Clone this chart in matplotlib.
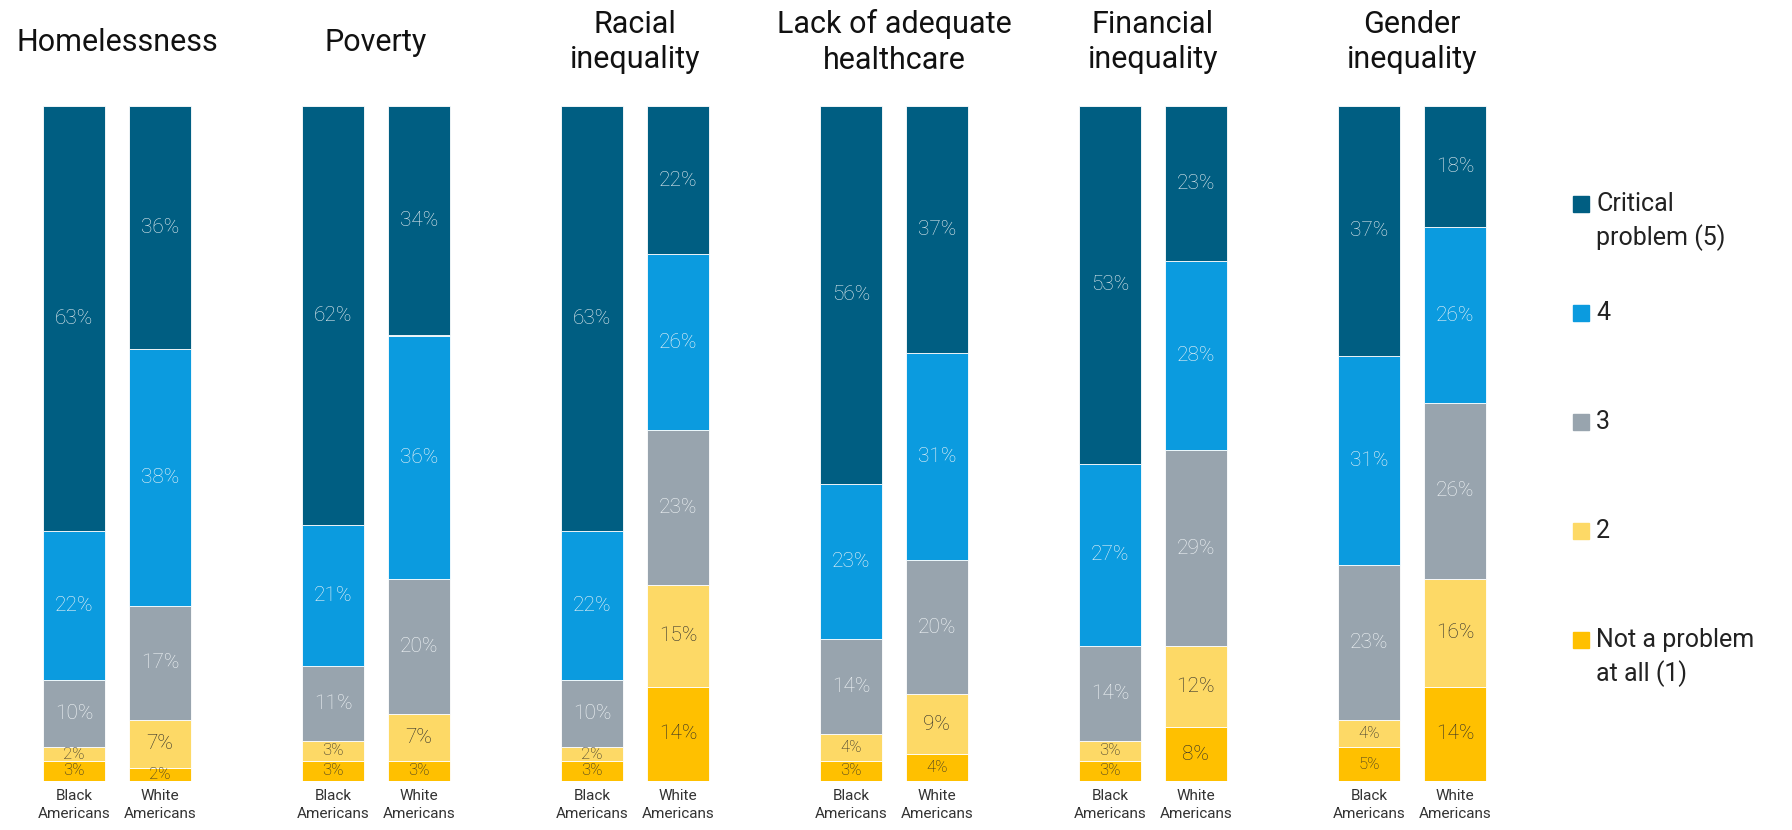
import numpy as np
import matplotlib.pyplot as plt
from matplotlib.patches import Rectangle

plt.rcParams['font.family'] = ['Roboto', 'DejaVu Sans']

# issues (chart titles)
issues = ['Homelessness', 'Poverty', 'Racial\ninequality', 'Lack of adequate\nhealthcare',
          'Financial\ninequality', 'Gender\ninequality']
groups = ['Black\nAmericans', 'White\nAmericans']

# shares per level, bottom (1) to top (5), one list per issue
black_1 = [3, 3, 3, 3, 3, 5]
black_2 = [2, 3, 2, 4, 3, 4]
black_3 = [10, 11, 10, 14, 14, 23]
black_4 = [22, 21, 22, 23, 27, 31]
black_5 = [63, 62, 63, 56, 53, 37]

white_1 = [2, 3, 14, 4, 8, 14]
white_2 = [7, 7, 15, 9, 12, 16]
white_3 = [17, 20, 23, 20, 29, 26]
white_4 = [38, 36, 26, 31, 28, 26]
white_5 = [36, 34, 22, 37, 23, 18]

levels = ['Not a problem\nat all (1)', '2', '3', '4', 'Critical\nproblem (5)']
colors = ['#FFC000', '#FDD966', '#98A4AE', '#0B9BDF', '#005E82']
text_colors = ['#2a2a2a', '#2a2a2a', '#F2F6F8', '#F2F6F8', '#E6EEF2']

fig = plt.figure(figsize=(17.92, 8.30), dpi=100)
ax = fig.add_axes([0, 49 / 830, 1530 / 1792, 675 / 830])

x = np.arange(len(issues))
d = 0.1656
w = 0.2385

for vals, pos in [([black_1, black_2, black_3, black_4, black_5], x - d),
                  ([white_1, white_2, white_3, white_4, white_5], x + d)]:
    vals = np.array(vals, dtype=float)
    totals = vals.sum(axis=0)
    bottom = np.zeros(len(issues))
    for k in range(5):
        h = vals[k] / totals * 100
        ax.bar(pos, h, w, bottom=bottom, color=colors[k], edgecolor='white', linewidth=0.6)
        for i in range(len(issues)):
            v = int(vals[k][i])
            ax.text(pos[i], bottom[i] + h[i] / 2, f'{v}%', ha='center', va='center',
                    color=text_colors[k], fontsize=12 if v < 6 else 15, fontweight='light')
        bottom += h

ax.set_xlim(-117 / 259, (1530 - 117) / 259)
ax.set_ylim(0, 100)
ax.set_yticks([])
ax.set_xticks(np.concatenate([x - d, x + d]))
ax.set_xticklabels(groups[:1] * len(issues) + groups[1:] * len(issues),
                   fontsize=11, color='#333333', linespacing=1.3)
ax.tick_params(axis='x', length=0, pad=6)
for s in ax.spines.values():
    s.set_visible(False)

for i, t in enumerate(issues):
    ax.annotate(t, xy=(x[i], 830 - 42), xycoords=('data', 'figure pixels'),
                ha='center', va='center', fontsize=22, color='#111111', linespacing=1.3,
                annotation_clip=False)

# legend, top to bottom
for j, k in enumerate(range(4, -1, -1)):
    yc = 204 + j * 109
    fig.add_artist(Rectangle((1573 / 1792, 1 - (yc + 8) / 830), 16 / 1792, 16 / 830,
                             transform=fig.transFigure, color=colors[k]))
    for n, line in enumerate(levels[k].split('\n')):
        fig.text(1596 / 1792, 1 - (yc + n * 34) / 830, line, ha='left', va='center',
                 fontsize=18, color='#222222')

fig.savefig('out.png', dpi=100)
